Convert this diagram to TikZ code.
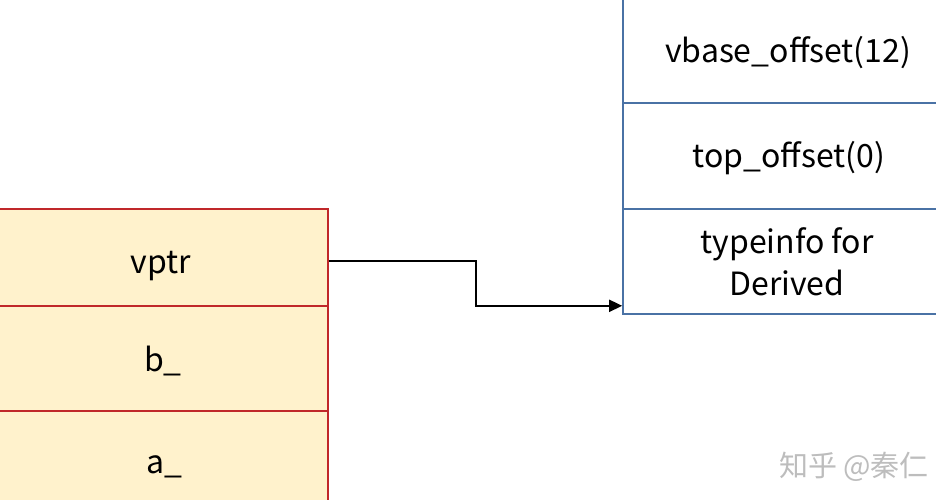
\documentclass[tikz,border=0pt]{standalone}
\usepackage{fontspec}
\setmainfont{Noto Sans CJK SC}
\usetikzlibrary{arrows.meta}
\definecolor{cellfill}{HTML}{FFF2CC}
\definecolor{cellred}{HTML}{C0282A}
\definecolor{cellblue}{HTML}{4A72A5}
\definecolor{wmgray}{HTML}{BDBDBD}
\tikzset{
  lcell/.style={draw=cellred, fill=cellfill, line width=1.6pt, minimum width=338pt, inner sep=0pt},
  rcell/.style={draw=cellblue, fill=white, line width=1.6pt, minimum width=330pt, inner sep=0pt},
  celltext/.style={inner sep=0pt, font=\fontsize{32}{42}\selectfont, text=black, align=center},
  link/.style={draw=black, line width=1.8pt, -{Triangle[length=13pt,width=12pt]}},
  wm/.style={text=wmgray, font=\fontsize{29}{34}\selectfont}
}
\begin{document}
\begin{tikzpicture}[x=1pt,y=-1pt]
\useasboundingbox (0,0) rectangle (936,500);
\begin{scope}
\clip (0,0) rectangle (936,500);
% left object
\node[lcell, minimum height=97pt] (vptrcell) at (159,257.5) {};
\node[lcell, minimum height=105pt] (bcell) at (159,358.5) {};
\node[lcell, minimum height=112pt] (acell) at (159,467) {};
\node[celltext] (vptr) at (161,266) {vptr};
\node[celltext] (b) at (163,361) {b\_};
\node[celltext] (a) at (164,467) {a\_};
% right vtable
\node[rcell, minimum height=106pt] (vbasecell) at (788,50) {};
\node[rcell, minimum height=106pt] (topcell) at (788,156) {};
\node[rcell, minimum height=105pt] (tinfo) at (788,261.5) {};
\node[celltext] (vbase) at (788,53) {vbase\_offset(12)};
\node[celltext] (top) at (789,158) {top\_offset(0)};
\node[celltext] (tinfotext) at (787,262) {typeinfo for\\Derived};
\draw[link] ([yshift=-3.5pt]vptrcell.east) -- ++(147,0) |- ([yshift=9pt]tinfo.south west);
\end{scope}
\node[wm] (mark) at (854,467) {知乎 @秦仁};
\end{tikzpicture}
\end{document}
